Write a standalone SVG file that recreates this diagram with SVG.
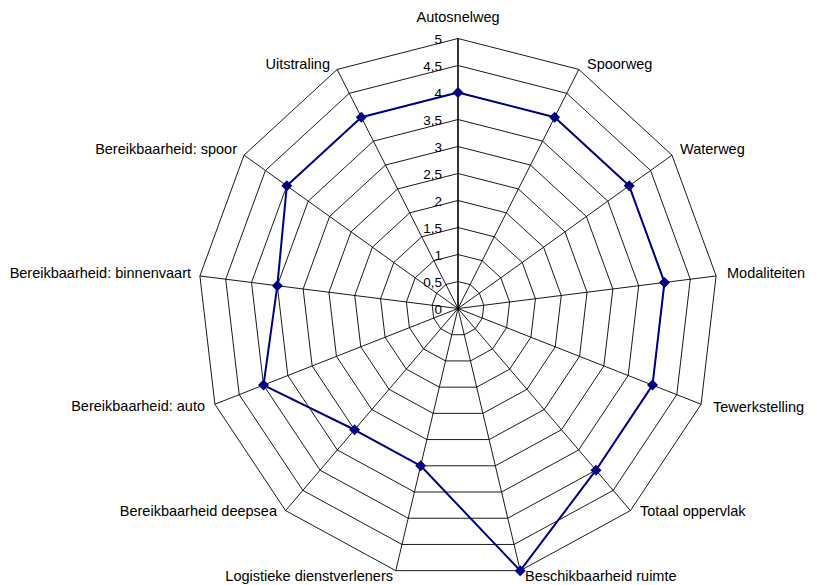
<svg xmlns="http://www.w3.org/2000/svg" xmlns:xlink="http://www.w3.org/1999/xlink" width="819" height="585" viewBox="0 0 819 585">
<style>
.grid{fill:none;stroke:#000;stroke-width:0.9;vector-effect:non-scaling-stroke}
.axis{fill:none;stroke:#000;stroke-width:1.6;vector-effect:non-scaling-stroke}
.series{fill:none;stroke:#000080;stroke-width:2;stroke-linejoin:round;vector-effect:non-scaling-stroke}
.lbl{font-family:"Liberation Sans",Arial,sans-serif;font-size:14.5px;fill:#000}
.tick{font-family:"Liberation Sans",Arial,sans-serif;font-size:13.5px;fill:#000;text-anchor:end}
.dot{fill:#000080}
</style>
<defs>
<path id="dia" d="M0,-5.5 L5.5,0 L0,5.5 L-5.5,0Z"/>
</defs>
<rect width="819" height="585" fill="#fff"/>
<g id="grid" transform="translate(458,308.5) scale(2.6,2.7)">
<polygon class="grid" points="0,-10 4.647,-8.855 8.230,-5.681 9.927,-1.205 9.350,3.546 6.631,7.485 2.393,9.709 -2.393,9.709 -6.631,7.485 -9.350,3.546 -9.927,-1.205 -8.230,-5.681 -4.647,-8.855"/>
<polygon class="grid" points="0,-20 9.294,-17.709 16.460,-11.361 19.854,-2.411 18.700,7.092 13.262,14.970 4.786,19.419 -4.786,19.419 -13.262,14.970 -18.700,7.092 -19.854,-2.411 -16.460,-11.361 -9.294,-17.709"/>
<polygon class="grid" points="0,-30 13.942,-26.564 24.689,-17.042 29.781,-3.616 28.051,10.638 19.894,22.455 7.180,29.128 -7.180,29.128 -19.894,22.455 -28.051,10.638 -29.781,-3.616 -24.689,-17.042 -13.942,-26.564"/>
<polygon class="grid" points="0,-40 18.589,-35.418 32.919,-22.722 39.708,-4.822 37.401,14.184 26.525,29.940 9.573,38.838 -9.573,38.838 -26.525,29.940 -37.401,14.184 -39.708,-4.822 -32.919,-22.722 -18.589,-35.418"/>
<polygon class="grid" points="0,-50 23.236,-44.273 41.149,-28.403 49.636,-6.027 46.751,17.730 33.156,37.426 11.966,48.547 -11.966,48.547 -33.156,37.426 -46.751,17.730 -49.636,-6.027 -41.149,-28.403 -23.236,-44.273"/>
<polygon class="grid" points="0,-60 27.883,-53.128 49.379,-34.084 59.563,-7.232 56.101,21.276 39.787,44.911 14.359,58.256 -14.359,58.256 -39.787,44.911 -56.101,21.276 -59.563,-7.232 -49.379,-34.084 -27.883,-53.128"/>
<polygon class="grid" points="0,-70 32.530,-61.982 57.609,-39.764 69.490,-8.438 65.451,24.822 46.418,52.396 16.752,67.966 -16.752,67.966 -46.418,52.396 -65.451,24.822 -69.490,-8.438 -57.609,-39.764 -32.530,-61.982"/>
<polygon class="grid" points="0,-80 37.178,-70.837 65.838,-45.445 79.417,-9.643 74.802,28.368 53.050,59.881 19.146,77.675 -19.146,77.675 -53.050,59.881 -74.802,28.368 -79.417,-9.643 -65.838,-45.445 -37.178,-70.837"/>
<polygon class="grid" points="0,-90 41.825,-79.691 74.068,-51.125 89.344,-10.849 84.152,31.914 59.681,67.366 21.539,87.385 -21.539,87.385 -59.681,67.366 -84.152,31.914 -89.344,-10.849 -74.068,-51.125 -41.825,-79.691"/>
<polygon class="grid" points="0,-100 46.472,-88.546 82.298,-56.806 99.271,-12.054 93.502,35.46 66.312,74.851 23.932,97.094 -23.932,97.094 -66.312,74.851 -93.502,35.46 -99.271,-12.054 -82.298,-56.806 -46.472,-88.546"/>
<path class="grid" d="M0,0L46.472,-88.546M0,0L82.298,-56.806M0,0L99.271,-12.054M0,0L93.502,35.46M0,0L66.312,74.851M0,0L23.932,97.094M0,0L-23.932,97.094M0,0L-66.312,74.851M0,0L-93.502,35.46M0,0L-99.271,-12.054M0,0L-82.298,-56.806M0,0L-46.472,-88.546"/>
<path class="axis" d="M0,0L0,-100"/>
</g>
<g id="ticks">
<text class="tick" x="442" y="313.5">0</text>
<text class="tick" x="442" y="286.5">0,5</text>
<text class="tick" x="442" y="259.5">1</text>
<text class="tick" x="442" y="232.5">1,5</text>
<text class="tick" x="442" y="205.5">2</text>
<text class="tick" x="442" y="178.5">2,5</text>
<text class="tick" x="442" y="151.5">3</text>
<text class="tick" x="442" y="124.5">3,5</text>
<text class="tick" x="442" y="97.5">4</text>
<text class="tick" x="442" y="70.5">4,5</text>
<text class="tick" x="442" y="43.5">5</text>
</g>
<g id="series">
<polygon class="series" transform="translate(458,308.5) scale(2.6,2.7)" points="0,-80 37.178,-70.837 65.838,-45.445 79.417,-9.643 74.802,28.368 53.05,59.881 23.932,97.094 -14.359,58.256 -39.787,44.911 -74.802,28.368 -69.49,-8.438 -65.838,-45.445 -37.178,-70.837"/>
<use xlink:href="#dia" class="dot" x="458" y="92.5"/>
<use xlink:href="#dia" class="dot" x="554.66" y="117.24"/>
<use xlink:href="#dia" class="dot" x="629.18" y="185.8"/>
<use xlink:href="#dia" class="dot" x="664.48" y="282.46"/>
<use xlink:href="#dia" class="dot" x="652.49" y="385.09"/>
<use xlink:href="#dia" class="dot" x="595.93" y="470.18"/>
<use xlink:href="#dia" class="dot" x="520.22" y="570.65"/>
<use xlink:href="#dia" class="dot" x="420.67" y="465.79"/>
<use xlink:href="#dia" class="dot" x="354.55" y="429.76"/>
<use xlink:href="#dia" class="dot" x="263.51" y="385.09"/>
<use xlink:href="#dia" class="dot" x="277.33" y="285.72"/>
<use xlink:href="#dia" class="dot" x="286.82" y="185.8"/>
<use xlink:href="#dia" class="dot" x="361.34" y="117.24"/>
</g>
<g id="labels">
<text id="l-autosnelweg" class="lbl" x="458" y="22" text-anchor="middle">Autosnelweg</text>
<text id="l-spoorweg" class="lbl" x="587" y="69">Spoorweg</text>
<text id="l-waterweg" class="lbl" x="680" y="154">Waterweg</text>
<text id="l-modaliteiten" class="lbl" x="727" y="277.5">Modaliteiten</text>
<text id="l-tewerkstelling" class="lbl" x="713" y="412">Tewerkstelling</text>
<text id="l-totaal" class="lbl" x="640" y="516">Totaal oppervlak</text>
<text id="l-ruimte" class="lbl" x="525" y="581">Beschikbaarheid ruimte</text>
<text id="l-logistiek" class="lbl" x="393" y="581" text-anchor="end">Logistieke dienstverleners</text>
<text id="l-deepsea" class="lbl" x="277" y="516" text-anchor="end">Bereikbaarheid deepsea</text>
<text id="l-auto" class="lbl" x="205" y="411" text-anchor="end">Bereikbaarheid: auto</text>
<text id="l-binnenvaart" class="lbl" x="191" y="277.5" text-anchor="end">Bereikbaarheid: binnenvaart</text>
<text id="l-spoor" class="lbl" x="237" y="154" text-anchor="end">Bereikbaarheid: spoor</text>
<text id="l-uitstraling" class="lbl" x="330" y="69" text-anchor="end">Uitstraling</text>
</g>
</svg>
